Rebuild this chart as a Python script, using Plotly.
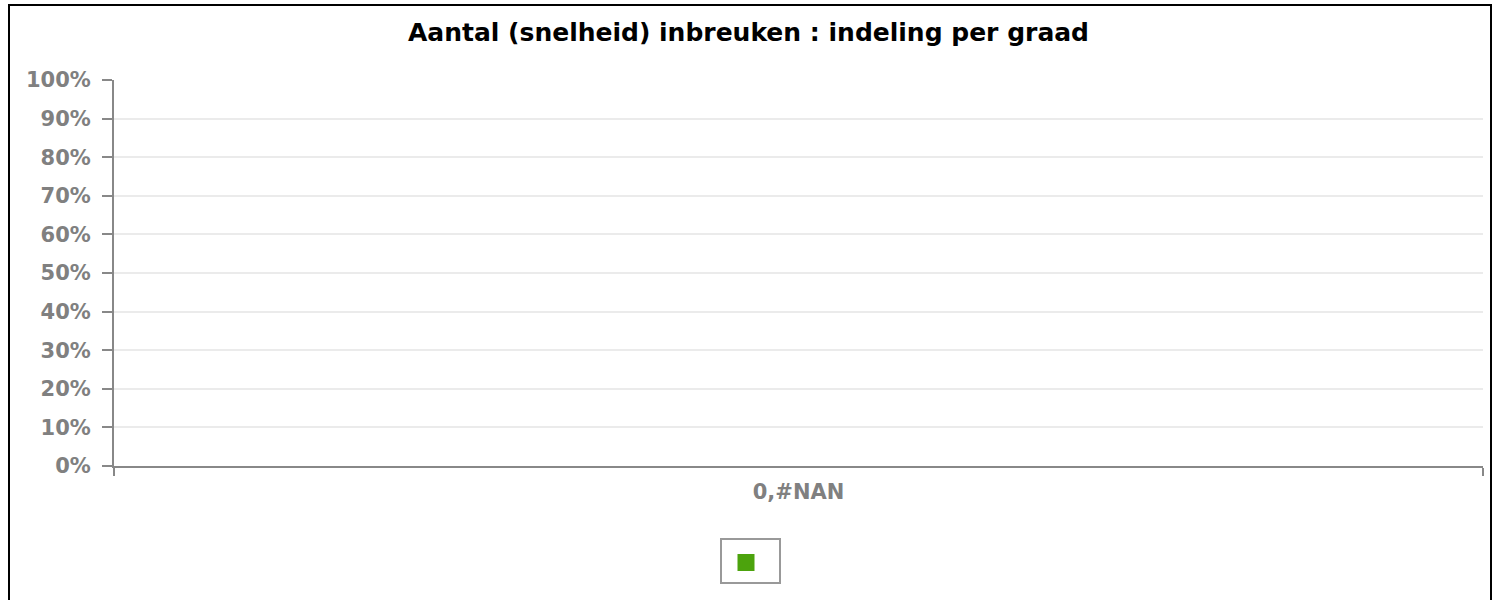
import plotly.graph_objects as go

categories = ["0,#NAN"]
values = [None]
series_name = " "
y_ticks = [0, 0.1, 0.2, 0.3, 0.4, 0.5, 0.6, 0.7, 0.8, 0.9, 1.0]
y_tick_labels = ["0%", "10%", "20%", "30%", "40%", "50%", "60%", "70%", "80%", "90%", "100%"]
title = "Aantal (snelheid) inbreuken : indeling per graad"

W, H = 1497, 600
L, R, T, B = 114, 14, 80, 134
pw, ph = W - L - R, H - T - B

def px2x(px):
    return (px - L) / pw

def py2y(py):
    return (H - B - py) / ph

fig = go.Figure()
fig.add_trace(go.Bar(
    x=categories, y=values, name=series_name,
    marker=dict(color="#4ca30d", line=dict(color="#4ca30d", width=5)),
    showlegend=True,
))

fig.update_layout(
    width=W, height=H,
    margin=dict(l=L, r=R, t=T, b=B, autoexpand=False),
    paper_bgcolor="white", plot_bgcolor="white",
    title=dict(text="<b>" + title + "</b>", x=0.5, xanchor="center", y=1 - 32 / H, yanchor="middle",
               font=dict(family="DejaVu Sans", size=25, color="#000000")),
    font=dict(family="DejaVu Sans"),
    showlegend=True,
    legend=dict(orientation="h", x=px2x(726), xanchor="left", y=py2y(563), yanchor="middle",
                borderwidth=0, bgcolor="rgba(0,0,0,0)",
                font=dict(size=14)),
    xaxis=dict(type="category", categoryorder="array", categoryarray=categories,
               range=[-0.5, 0.5], showgrid=False, showline=True, linecolor="#888888", linewidth=2,
               ticks="outside", tickson="boundaries", ticklen=8, tickwidth=2, tickcolor="#888888",
               ticklabelstandoff=6,
               tickfont=dict(family="DejaVu Sans", size=21, color="#808080", weight="bold"),
               fixedrange=True),
    yaxis=dict(range=[0, 1], tickvals=y_ticks, ticktext=y_tick_labels,
               showgrid=True, gridcolor="#ebebeb", gridwidth=2,
               showline=True, linecolor="#888888", linewidth=2,
               ticks="outside", ticklen=10, tickwidth=2, tickcolor="#888888",
               ticklabelstandoff=7,
               tickfont=dict(family="DejaVu Sans", size=21, color="#808080", weight="bold"),
               zeroline=False, fixedrange=True),
    shapes=[
        dict(type="line", xref="paper", yref="paper", x0=px2x(9), x1=px2x(9), y0=py2y(5), y1=py2y(610),
             line=dict(color="black", width=2)),
        dict(type="line", xref="paper", yref="paper", x0=px2x(8), x1=px2x(1492), y0=py2y(5), y1=py2y(5),
             line=dict(color="black", width=2)),
        dict(type="line", xref="paper", yref="paper", x0=px2x(1491), x1=px2x(1491), y0=py2y(5), y1=py2y(610),
             line=dict(color="black", width=2)),
        dict(type="rect", xref="paper", yref="paper", x0=px2x(721), x1=px2x(780), y0=py2y(539), y1=py2y(583),
             line=dict(color="#999999", width=2), layer="below"),
    ],
)

fig.write_html("out.html", config={"displayModeBar": False},
               post_script="document.body.style.margin='0';")
